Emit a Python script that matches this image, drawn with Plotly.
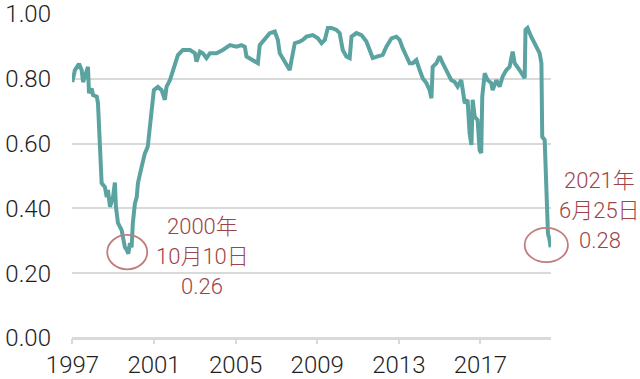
import plotly.graph_objects as go

years = [1998.03, 1998.16, 1998.36, 1998.49, 1998.56, 1998.74, 1998.80, 1998.85, 1998.98, 1999.05,
         1999.23, 1999.29, 1999.36, 1999.44, 1999.47, 1999.63, 1999.72, 1999.78, 1999.88, 2000.03,
         2000.12, 2000.17, 2000.27, 2000.45, 2000.51, 2000.61, 2000.70, 2000.775, 2000.86, 2000.94,
         2001.00, 2001.10, 2001.19, 2001.25, 2001.43, 2001.59, 2001.73, 2001.84, 2001.94, 2002.03,
         2002.23, 2002.41, 2002.57, 2002.65, 2002.82, 2003.06, 2003.21, 2003.45, 2003.80, 2004.04,
         2004.12, 2004.29, 2004.43, 2004.61, 2004.78, 2005.10, 2005.27, 2005.41, 2005.76, 2006.08,
         2006.33, 2006.49, 2006.57, 2006.88, 2007.13, 2007.22, 2007.47, 2007.71, 2007.96, 2008.11,
         2008.20, 2008.45, 2008.69, 2008.78, 2008.94, 2009.18, 2009.33, 2009.51, 2009.82, 2010.07,
         2010.25, 2010.41, 2010.56, 2010.74, 2010.98, 2011.14, 2011.29, 2011.47, 2011.63, 2011.72,
         2011.96, 2012.21, 2012.45, 2012.61, 2012.76, 2013.00, 2013.25, 2013.43, 2013.68, 2013.92,
         2014.08, 2014.23, 2014.41, 2014.57, 2014.72, 2014.90, 2015.06, 2015.21, 2015.39, 2015.55,
         2015.64, 2015.70, 2015.88, 2016.04, 2016.19, 2016.43, 2016.61, 2016.78, 2016.92, 2017.10,
         2017.27, 2017.41, 2017.51, 2017.60, 2017.66, 2017.76, 2017.90, 2018.00, 2018.08, 2018.13,
         2018.25, 2018.39, 2018.57, 2018.64, 2018.82, 2018.98, 2019.13, 2019.31, 2019.47, 2019.62,
         2019.72, 2019.96, 2020.21, 2020.25, 2020.35, 2020.53, 2020.78, 2020.94, 2021.03, 2021.07,
         2021.19, 2021.24, 2021.30, 2021.35, 2021.43, 2021.48]

values = [0.79, 0.827, 0.846, 0.827, 0.79, 0.827, 0.837, 0.756, 0.77, 0.75,
          0.745, 0.725, 0.63, 0.55, 0.478, 0.466, 0.435, 0.457, 0.405, 0.435,
          0.48, 0.405, 0.355, 0.333, 0.313, 0.28, 0.272, 0.26, 0.293, 0.28,
          0.355, 0.415, 0.435, 0.478, 0.528, 0.57, 0.59, 0.65, 0.70, 0.765,
          0.775, 0.765, 0.735, 0.775, 0.796, 0.848, 0.873, 0.889, 0.889, 0.879,
          0.853, 0.884, 0.879, 0.864, 0.879, 0.879, 0.884, 0.889, 0.904, 0.899,
          0.904, 0.899, 0.869, 0.858, 0.848, 0.904, 0.925, 0.941, 0.946, 0.92,
          0.879, 0.853, 0.827, 0.858, 0.91, 0.915, 0.92, 0.93, 0.935, 0.925,
          0.91, 0.92, 0.957, 0.957, 0.951, 0.941, 0.889, 0.869, 0.864, 0.93,
          0.941, 0.935, 0.915, 0.889, 0.864, 0.869, 0.874, 0.899, 0.925, 0.93,
          0.92, 0.894, 0.869, 0.848, 0.848, 0.858, 0.827, 0.802, 0.787, 0.765,
          0.74, 0.837, 0.848, 0.869, 0.848, 0.817, 0.796, 0.79, 0.776, 0.796,
          0.725, 0.735, 0.632, 0.596, 0.735, 0.683, 0.673, 0.58, 0.571, 0.745,
          0.817, 0.796, 0.787, 0.765, 0.796, 0.776, 0.807, 0.827, 0.837, 0.884,
          0.848, 0.827, 0.802, 0.951, 0.957, 0.93, 0.899, 0.879, 0.848, 0.621,
          0.611, 0.509, 0.333, 0.323, 0.302, 0.28]

tick_labels = ["1997", "2001", "2005", "2009", "2013", "2017"]
tick_positions = [1998.04, 2002.04, 2006.04, 2010.04, 2014.04, 2018.04]
y_ticks = [0.0, 0.2, 0.4, 0.6, 0.8, 1.0]

low1 = (2000.775, 0.26)
low1_text = ["2000年", "10月10日", "0.26"]
low2 = (2021.48, 0.28)
low2_text = ["2021年", "6月25日", "0.28"]

LINE = "#5BA3A1"
RED = "#9E4448"
CIRC = "#C27C7C"
GRID = "#D9D9D9"
FONT = "Roboto, Noto Sans CJK JP, sans-serif"

X_RANGE = [1998.017, 2021.5]
Y_RANGE = [0.0, 1.0]


def to_paper_x(v):
    return (v - X_RANGE[0]) / (X_RANGE[1] - X_RANGE[0])


def to_paper_y(v):
    return (v - Y_RANGE[0]) / (Y_RANGE[1] - Y_RANGE[0])


fig = go.Figure()
fig.add_trace(go.Scatter(x=years, y=values, mode="lines",
                         line=dict(color=LINE, width=4), hoverinfo="skip"))

# circles around the two lows (paper coordinates so they are not clipped)
ry = 0.053
for (cx, cy), dx, dy, rx in [(low1, -0.05, 0.005, 0.98), (low2, -0.21, 0.007, 1.06)]:
    fig.add_shape(type="circle", xref="paper", yref="paper",
                  x0=to_paper_x(cx + dx - rx), x1=to_paper_x(cx + dx + rx),
                  y0=to_paper_y(cy + dy - ry), y1=to_paper_y(cy + dy + ry),
                  line=dict(color=CIRC, width=1.8))

for txt, ys in zip(low1_text, [27, -3, -33]):
    fig.add_annotation(x=low1[0], y=low1[1], xref="x", yref="y", text=txt,
                       showarrow=False, xshift=74, yshift=ys,
                       font=dict(family=FONT, size=22, color=RED, weight=300))
for txt, ys in zip(low2_text, [67, 37, 7]):
    fig.add_annotation(x=low2[0], y=low2[1], xref="x", yref="y", text=txt,
                       showarrow=False, xshift=49, yshift=ys,
                       font=dict(family=FONT, size=22, color=RED, weight=300))

fig.update_layout(
    width=640, height=379,
    margin=dict(l=72, r=89, t=14, b=41, autoexpand=False),
    paper_bgcolor="white", plot_bgcolor="white",
    showlegend=False,
    font=dict(family=FONT, size=24, color="#1e1e1e"),
    xaxis=dict(range=X_RANGE, tickvals=tick_positions, ticktext=tick_labels,
               automargin=False,
               showgrid=False, zeroline=False, showline=False,
               ticks="outside", ticklen=5, tickwidth=2, tickcolor=GRID,
               ticklabelstandoff=0,
               tickfont=dict(family=FONT, size=24, color="#1e1e1e", weight=300)),
    yaxis=dict(range=Y_RANGE, tickvals=y_ticks, tickformat=".2f",
               automargin=False,
               showgrid=True, gridcolor=GRID, gridwidth=2,
               zeroline=True, zerolinecolor=GRID, zerolinewidth=2.5,
               showline=False, ticks="", ticklabelstandoff=20,
               tickfont=dict(family=FONT, size=24, color="#1e1e1e", weight=300)),
)

fig.write_html("out.html")
